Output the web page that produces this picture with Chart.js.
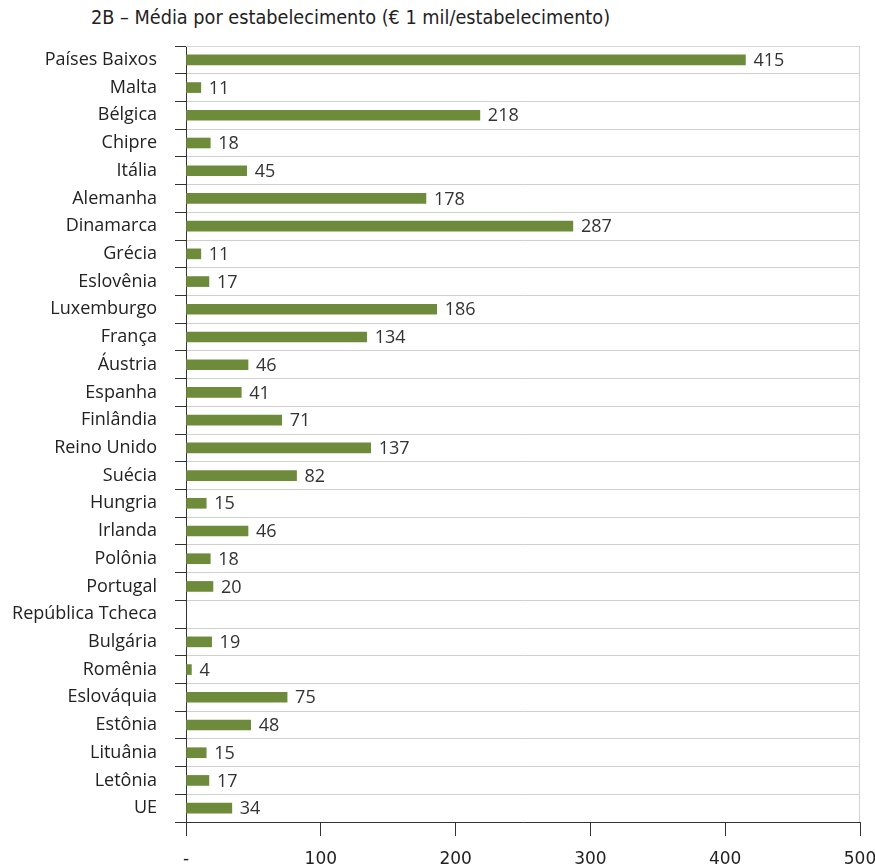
<!DOCTYPE html>
<html>
<head>
<meta charset="utf-8">
<script src="https://cdn.jsdelivr.net/npm/chart.js@4/dist/chart.umd.min.js"></script>
<style>
  body { margin: 0; background: #fff; }
  #wrap { position: relative; width: 875px; height: 867px; }
  #title {
    position: absolute; left: 91px; top: 6px;
    font: 19.7px "DejaVu Sans", sans-serif;
    font-stretch: condensed;
    color: #222;
  }
  canvas { position: absolute; left: 0; top: 0; }
</style>
</head>
<body>
<div id="wrap">
  <div id="title">2B – Média por estabelecimento (€ 1 mil/estabelecimento)</div>
  <canvas id="myChart" width="875" height="867"></canvas>
</div>
<script>
const paises = ['Países Baixos', 'Malta', 'Bélgica', 'Chipre', 'Itália', 'Alemanha', 'Dinamarca',
    'Grécia', 'Eslovênia', 'Luxemburgo', 'França', 'Áustria', 'Espanha', 'Finlândia', 'Reino Unido',
    'Suécia', 'Hungria', 'Irlanda', 'Polônia', 'Portugal', 'República Tcheca', 'Bulgária', 'Romênia',
    'Eslováquia', 'Estônia', 'Lituânia', 'Letônia', 'UE'];
const media = [415, 11, 218, 18, 45, 178, 287, 11, 17, 186, 134, 46, 41, 71, 137,
    82, 15, 46, 18, 20, null, 19, 4, 75, 48, 15, 17, 34];
const xTicks = [0, 100, 200, 300, 400, 500];

const ctx = document.getElementById('myChart').getContext('2d');

// value labels next to each bar + light frame around the plot
const valueLabels = {
    id: 'valueLabels',
    beforeDatasetsDraw(chart) {
        const a = chart.chartArea;
        const c = chart.ctx;
        c.save();
        c.strokeStyle = '#d4d4d4';
        c.lineWidth = 1;
        c.beginPath();
        c.moveTo(a.left, a.top + 0.5);
        c.lineTo(a.right - 0.5, a.top + 0.5);
        c.lineTo(a.right - 0.5, a.bottom);
        c.stroke();
        c.restore();
    },
    afterDatasetsDraw(chart) {
        const c = chart.ctx;
        const meta = chart.getDatasetMeta(0);
        c.save();
        c.font = '18px "Open Sans", sans-serif';
        c.fillStyle = '#333';
        c.textBaseline = 'middle';
        meta.data.forEach((bar, i) => {
            if (media[i] == null) return;
            c.fillText(String(media[i]), bar.x + 8, bar.y + 1);
        });
        c.restore();
    }
};

const myChart = new Chart(ctx, {
    type: 'bar',
    data: {
        labels: paises,
        datasets: [{
            data: media,
            backgroundColor: '#6d8b3b',
            barThickness: 10
        }]
    },
    options: {
        indexAxis: 'y',
        responsive: false,
        animation: false,
        layout: { padding: { top: 46, right: 15, left: 0, bottom: 0 } },
        plugins: {
            legend: { display: false },
            tooltip: { enabled: false }
        },
        scales: {
            x: {
                min: 0,
                max: 500,
                afterBuildTicks: (scale) => { scale.ticks = xTicks.map(v => ({ value: v })); },
                afterFit: (scale) => {
                    scale.height = 45;
                    // let the "500" label hang past the plot edge
                    scale.paddingRight = 0;
                },
                border: { color: '#333', width: 1 },
                grid: { drawOnChartArea: false, tickLength: 14, tickColor: '#333' },
                ticks: {
                    padding: 13,
                    color: '#222',
                    font: { family: '"DejaVu Sans", sans-serif', size: 17 },
                    callback: (v) => v === 0 ? '-' : v
                }
            },
            y: {
                afterFit: (scale) => { scale.width = 186; },
                border: { color: '#333', width: 1 },
                grid: { color: '#d0d0d0', tickLength: 11, tickColor: '#333' },
                ticks: {
                    padding: 18,
                    color: '#222',
                    autoSkip: false,
                    font: { family: '"Open Sans", sans-serif', size: 18 }
                }
            }
        }
    },
    plugins: [valueLabels]
});
</script>
</body>
</html>
